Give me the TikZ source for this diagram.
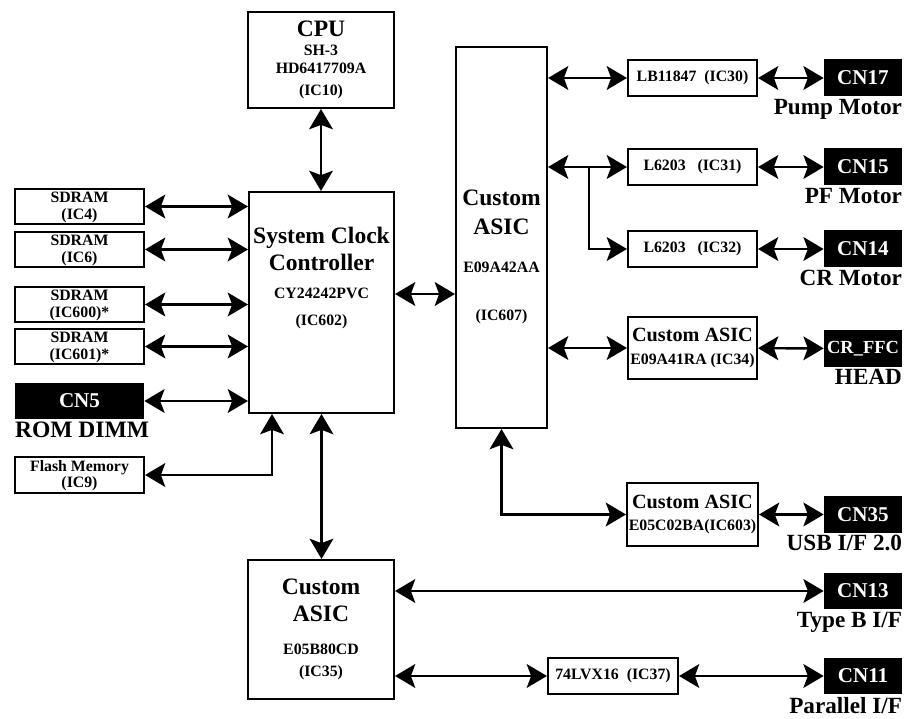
\documentclass[tikz,border=0pt]{standalone}
\usepackage{fontspec}
\setmainfont{Liberation Serif}
\usetikzlibrary{arrows.meta,positioning,calc}
\newcommand{\fsbig}{\fontsize{13.4}{16}\selectfont}
\newcommand{\fsmid}{\fontsize{11}{13}\selectfont}
\newcommand{\fssmall}{\fontsize{9}{9.5}\selectfont}
\tikzset{
    every node/.style={font=\bfseries},
    chipblock/.style={
        draw, line width=1.2pt, fill=white,
        align=center, inner sep=1pt,
        font=\fssmall\bfseries
    },
    smallchip/.style={
        chipblock, minimum width=2.58cm, minimum height=0.71cm
    },
    connblock/.style={
        fill=black, text=white, inner sep=0pt,
        minimum width=1.56cm, minimum height=0.74cm,
        font=\fontsize{12}{12}\selectfont\bfseries
    },
    connlabel/.style={
        inner sep=0pt, font=\fontsize{13.2}{14}\selectfont\bfseries
    },
    busarrow/.style={
        {Stealth[length=11.5pt,width=13.5pt,inset=2.5pt]}-{Stealth[length=11.5pt,width=13.5pt,inset=2.5pt]},
        line width=1.4pt
    },
    onearrow/.style={
        -{Stealth[length=11.5pt,width=13.5pt,inset=2.5pt]}, line width=1.4pt
    },
}
\begin{document}
\begin{tikzpicture}[x=0.02cm, y=-0.02cm]
    \useasboundingbox (0,0) rectangle (907,719);

    % Main blocks
    \node[chipblock, minimum width=2.92cm, minimum height=1.92cm,
          font=\fontsize{9}{10.5}\selectfont\bfseries] (cpu) at (321,60)
          {{\fsbig CPU}\\SH-3\\HD6417709A\\[2pt](IC10)};
    \node[chipblock, minimum width=2.90cm, minimum height=4.42cm] (scc) at (321.5,302.5) {};
    \node[align=center, font=\fontsize{9}{15.5}\selectfont\bfseries] (scctext) at (321.5,278)
          {{\fsbig System Clock}\\{\fsbig Controller}\\CY24242PVC\\(IC602)};
    \node[chipblock, minimum width=1.82cm, minimum height=7.62cm] (asic) at (501.5,237.5) {};
    \node[align=center, font=\fontsize{9}{16.4}\selectfont\bfseries] (asictext) at (501.5,257)
          {{\fsbig Custom}\\{\fsbig ASIC}\\[5pt]E09A42AA\\[11pt](IC607)};
    \node[chipblock, minimum width=2.92cm, minimum height=2.78cm,
          font=\fontsize{9}{12.5}\selectfont\bfseries] (asicb) at (321,629.5)
          {{\fsbig Custom}\\[2.8pt]{\fsbig ASIC}\\[6.2pt]E05B80CD\\(IC35)};

    % Memories (left)
    \node[smallchip, text depth=1pt] (sd4) at (79.5,206.5) {SDRAM\\(IC4)};
    \node[smallchip, text depth=1pt] (sd6) at (79.5,249.5) {SDRAM\\(IC6)};
    \node[smallchip, text depth=1pt] (sd600) at (79.5,304.5) {SDRAM\\(IC600)*};
    \node[smallchip, text depth=1pt] (sd601) at (79.5,346.5) {SDRAM\\(IC601)*};
    \node[connblock, minimum width=2.58cm, minimum height=0.72cm] (cn5) at (79.5,401) {CN5};
    \node[connlabel, anchor=north west, font=\fontsize{13.4}{14}\selectfont\bfseries,
          yshift=-1pt] (romdimm) at (cn5.south west) {ROM DIMM};
    \node[smallchip, text depth=1pt] (flash) at (79.5,475) {Flash Memory\\(IC9)};

    % Drivers (right)
    \node[smallchip] (ic30) at (692.5,78) {LB11847\ \ (IC30)};
    \node[smallchip] (ic31) at (692.5,167) {L6203\ \ \ (IC31)};
    \node[smallchip] (ic32) at (692.5,249) {L6203\ \ \ (IC32)};
    \node[smallchip, minimum height=1.24cm, font=\fontsize{9}{13.6}\selectfont\bfseries] (ic34) at (692.5,348)
          {{\fontsize{11.5}{12}\selectfont Custom ASIC}\\E09A41RA (IC34)};
    \node[smallchip, minimum height=1.26cm, font=\fontsize{9}{13}\selectfont\bfseries] (ic603) at (692.5,514.5)
          {{\fontsize{11.5}{12}\selectfont Custom ASIC}\\E05C02BA(IC603)};
    \node[smallchip, minimum width=2.60cm] (ic37) at (613,676) {74LVX16\ \ (IC37)};

    % Connectors
    \node[connblock] (cn17) at (863,78) {CN17};
    \node[connblock] (cn15) at (863,167) {CN15};
    \node[connblock] (cn14) at (863,249) {CN14};
    \node[connblock, font=\fontsize{10.5}{11}\selectfont\bfseries] (crffc) at (863,348.5) {CR\_FFC};
    \node[connblock] (cn35) at (863,514.5) {CN35};
    \node[connblock] (cn13) at (863,591) {CN13};
    \node[connblock] (cn11) at (863,676) {CN11};
    \node[connlabel, anchor=north east, yshift=-1pt] (pump) at (cn17.south east) {Pump Motor};
    \node[connlabel, anchor=north east, yshift=-1pt] (pf) at (cn15.south east) {PF Motor};
    \node[connlabel, anchor=north east, yshift=-1pt] (cr) at (cn14.south east) {CR Motor};
    \node[connlabel, anchor=north east, yshift=-1pt] (head) at (crffc.south east) {HEAD};
    \node[connlabel, anchor=north east, yshift=-1pt] (usb) at (cn35.south east) {USB I/F 2.0};
    \node[connlabel, anchor=north east, yshift=-1pt] (typeb) at (cn13.south east) {Type B I/F};
    \node[connlabel, anchor=north east, yshift=-1pt] (par) at (cn11.south east) {Parallel I/F};

    % Arrows
    \draw[busarrow] (cpu.south) -- (cpu.south |- scc.north);
    \draw[busarrow] (scc.south) -- (scc.south |- asicb.north);
    \draw[busarrow] (sd4.east) -- (sd4.east -| scc.west);
    \draw[busarrow] (sd6.east) -- (sd6.east -| scc.west);
    \draw[busarrow] (sd600.east) -- (sd600.east -| scc.west);
    \draw[busarrow] (sd601.east) -- (sd601.east -| scc.west);
    \draw[busarrow] (cn5.east) -- (cn5.east -| scc.west);
    \draw[busarrow] (flash.east) -| ([xshift=-0.99cm]scc.south);
    \draw[busarrow] ([yshift=0.17cm]scc.east) -- ([yshift=0.17cm]scc.east -| asic.west);

    \draw[busarrow] (ic30.west -| asic.east) -- (ic30.west);
    \draw[busarrow] (ic31.west -| asic.east) -- (ic31.west);
    \coordinate (split) at (589,167);
    \draw[onearrow] (split) |- (ic32.west);
    \draw[busarrow] (ic34.west -| asic.east) -- (ic34.west);
    \draw[busarrow] (asic.south) |- (ic603.west);

    \draw[busarrow] (ic30) -- (cn17);
    \draw[busarrow] (ic31) -- (cn15);
    \draw[busarrow] (ic32) -- (cn14);
    \draw[busarrow] (ic34) -- (crffc);
    \draw[busarrow] (ic603) -- (cn35);

    \draw[busarrow] (cn13.west -| asicb.east) -- (cn13.west);
    \draw[busarrow] (ic37.west -| asicb.east) -- (ic37.west);
    \draw[busarrow] (ic37) -- (cn11);
\end{tikzpicture}
\end{document}
